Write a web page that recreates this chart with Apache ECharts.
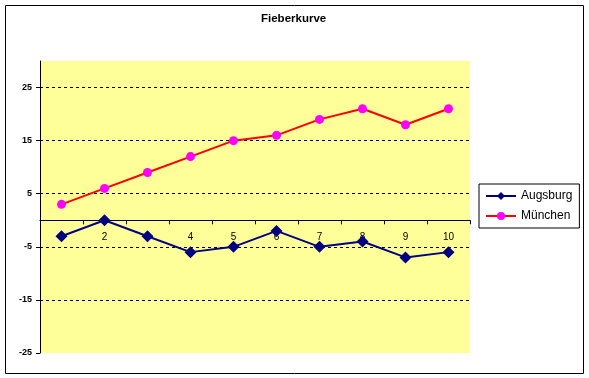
<!DOCTYPE html>
<html>
<head>
<meta charset="utf-8">
<script src="https://cdn.jsdelivr.net/npm/echarts@6/dist/echarts.min.js"></script>
<style>
  html, body { margin: 0; padding: 0; background: #fff; }
  #chart { width: 589px; height: 378px; }
</style>
</head>
<body>
<div id="chart"></div>
<script>
// Daten
const days = ['1', '2', '3', '4', '5', '6', '7', '8', '9', '10']
const augsburg = [-3, 0, -3, -6, -5, -2, -5, -4, -7, -6]
const muenchen = [3, 6, 9, 12, 15, 16, 19, 21, 18, 21]
const yMin = -25
const yMax = 30
const yStep = 10

const font = 'Liberation Sans, Arial, sans-serif'
const gridTop = 61
const gridBottom = 25
const gridH = 378 - gridTop - gridBottom
// x-Achse schneidet bei 0
const zeroOffset = -gridH * (0 - yMin) / (yMax - yMin)

const chart = echarts.init(document.getElementById('chart'))
chart.setOption({
    animation: false,
    title: {
        text: 'Fieberkurve',
        left: 261,
        top: 13,
        padding: 0,
        textStyle: { fontSize: 11.5, fontWeight: 'bold', color: '#000', fontFamily: font }
    },
    graphic: [{
        type: 'rect',
        shape: { x: 5.5, y: 5.5, width: 578, height: 368 },
        style: { fill: 'none', stroke: '#000', lineWidth: 1 },
        silent: true
    }],
    legend: {
        orient: 'vertical',
        left: 479,
        top: 184,
        padding: [6, 7, 6, 6],
        itemGap: 8,
        itemWidth: 30,
        itemHeight: 10,
        borderColor: '#000',
        borderWidth: 1,
        textStyle: { fontSize: 12, color: '#000', fontFamily: font },
        data: ['Augsburg', 'München']
    },
    grid: {
        left: 40,
        top: gridTop,
        right: 119,
        bottom: gridBottom,
        show: true,
        backgroundColor: '#FFFF99',
        borderWidth: 0
    },
    xAxis: {
        type: 'category',
        data: days,
        position: 'bottom',
        offset: zeroOffset,
        axisLine: { onZero: false, lineStyle: { color: '#000', width: 1 } },
        axisTick: { show: true, length: 4, lineStyle: { color: '#000' } },
        axisLabel: { interval: 0, margin: 12, fontSize: 10, color: '#000', fontFamily: font }
    },
    yAxis: {
        type: 'value',
        min: yMin,
        max: yMax,
        interval: yStep,
        axisLine: { show: true, lineStyle: { color: '#000', width: 1 } },
        axisTick: { show: true, length: 4, lineStyle: { color: '#000' } },
        axisLabel: {
            showMaxLabel: false,
            margin: 8,
            fontSize: 9,
            fontWeight: 'bold',
            color: '#000',
            fontFamily: font
        },
        splitLine: {
            show: true,
            lineStyle: {
                type: [3, 3],
                color: ['transparent', '#000', '#000', '#000', '#000', '#000', 'transparent']
            }
        }
    },
    series: [{
        name: 'Augsburg',
        type: 'line',
        data: augsburg,
        symbol: 'diamond',
        symbolSize: 12,
        lineStyle: { color: '#000080', width: 2 },
        itemStyle: { color: '#000080' }
    }, {
        name: 'München',
        type: 'line',
        data: muenchen,
        symbol: 'circle',
        symbolSize: 9,
        lineStyle: { color: '#FF0000', width: 2 },
        itemStyle: { color: '#FF00FF' }
    }]
})
</script>
</body>
</html>
